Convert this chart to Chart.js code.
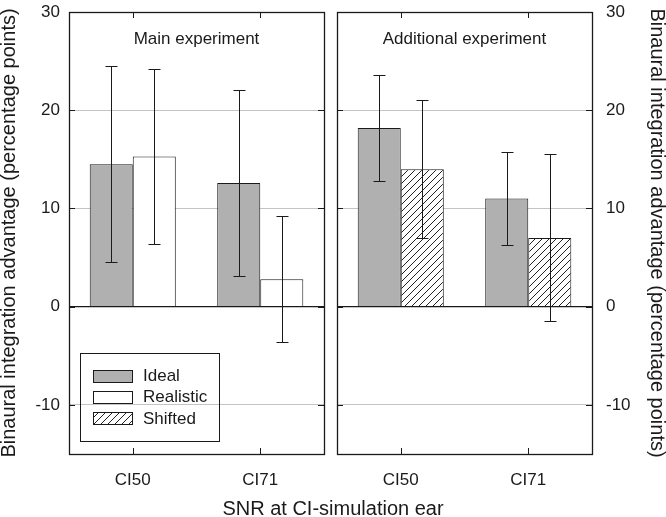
<!DOCTYPE html>
<html>
<head>
<meta charset="utf-8">
<script src="https://cdn.jsdelivr.net/npm/chart.js@4.4.1/dist/chart.umd.min.js"></script>
<style>
  body { margin: 0; background: #fff; }
  #wrap { position: relative; width: 666px; height: 517px; background: #fff; }
  canvas { position: absolute; top: 0; }
  #left { left: 0; }
  #right { left: 333px; }
  #xTitle {
    position: absolute; left: 0; top: 498px; width: 666px;
    text-align: center; font: 20px 'Liberation Sans', Arial, sans-serif;
    line-height: 20px; color: #1a1a1a;
  }
</style>
</head>
<body>
<div id="wrap">
  <canvas id="left" width="333" height="517"></canvas>
  <canvas id="right" width="333" height="517"></canvas>
  <div id="xTitle">SNR at CI-simulation ear</div>
</div>
<script>
// values
const categories = ['CI50', 'CI71'];
const seriesNames = ['Ideal', 'Realistic', 'Shifted'];

const mainIdeal = [14.5, 12.6];
const mainIdealErr = [10.0, 9.5];
const mainRealistic = [15.3, 2.8];
const mainRealisticErr = [8.9, 6.4];

const addIdeal = [18.2, 11.0];
const addIdealErr = [5.4, 4.7];
const addShifted = [14.0, 7.0];
const addShiftedErr = [7.0, 8.5];

const yTicks = [-10, 0, 10, 20, 30];
const yTitle = 'Binaural integration advantage (percentage points)';

const ink = '#1a1a1a';
const gray = '#b0b0b0';
Chart.defaults.font.family = "'Liberation Sans', Arial, sans-serif";
Chart.defaults.color = ink;

// diagonal hatch for the Shifted bars
function makeHatch() {
    const c = document.createElement('canvas');
    c.width = 7; c.height = 7;
    const g = c.getContext('2d');
    g.fillStyle = '#fff';
    g.fillRect(0, 0, 7, 7);
    g.strokeStyle = '#222';
    g.lineWidth = 1;
    g.beginPath();
    g.moveTo(-1, 8); g.lineTo(8, -1);
    g.moveTo(-1, 1); g.lineTo(1, -1);
    g.moveTo(6, 8); g.lineTo(8, 6);
    g.stroke();
    return g.createPattern(c, 'repeat');
}
const hatch = makeHatch();
const fills = [gray, '#ffffff', hatch];

// error bars, frame, inward ticks, panel title and legend
const framePlugin = {
    id: 'frame',
    afterDatasetsDraw(chart, args, opts) {
        const ctx = chart.ctx;
        const a = chart.chartArea;
        const y = chart.scales.y;
        const x = chart.scales.x;
        ctx.save();
        ctx.strokeStyle = ink;
        ctx.lineWidth = 1;

        // error bars
        chart.data.datasets.forEach((ds, i) => {
            const meta = chart.getDatasetMeta(i);
            meta.data.forEach((bar, j) => {
                const v = ds.data[j], e = ds.errors[j];
                const top = Math.round(y.getPixelForValue(v + e)) + 0.5;
                const bot = Math.round(y.getPixelForValue(v - e)) + 0.5;
                const cx = Math.round(bar.x) + 0.5;
                ctx.beginPath();
                ctx.moveTo(cx, top); ctx.lineTo(cx, bot);
                ctx.moveTo(cx - 6, top); ctx.lineTo(cx + 6, top);
                ctx.moveTo(cx - 6, bot); ctx.lineTo(cx + 6, bot);
                ctx.stroke();
            });
        });

        // inward tick marks
        ctx.beginPath();
        yTicks.forEach(v => {
            const py = Math.round(y.getPixelForValue(v)) + 0.5;
            ctx.moveTo(a.left, py); ctx.lineTo(a.left + 6, py);
            ctx.moveTo(a.right - 6, py); ctx.lineTo(a.right, py);
        });
        categories.forEach((c, i) => {
            const px = Math.round(x.getPixelForValue(i)) + 0.5;
            ctx.moveTo(px, a.top); ctx.lineTo(px, a.top + 6);
            ctx.moveTo(px, a.bottom); ctx.lineTo(px, a.bottom - 6);
        });
        ctx.stroke();

        // frame
        ctx.lineWidth = 1.3;
        ctx.strokeRect(Math.round(a.left) + 0.5, Math.round(a.top) + 0.5,
            Math.round(a.right - a.left), Math.round(a.bottom - a.top));

        // panel title
        ctx.fillStyle = ink;
        ctx.font = "17px 'Liberation Sans', Arial, sans-serif";
        ctx.textAlign = 'center';
        ctx.textBaseline = 'alphabetic';
        ctx.fillText(opts.text, (a.left + a.right) / 2, a.top + 31.5);

        // legend box
        if (opts.legend) {
            const bx = a.left + 11, by = 353;
            ctx.lineWidth = 1;
            ctx.strokeRect(bx + 0.5, by + 0.5, 139, 88);
            ctx.textAlign = 'left';
            ctx.textBaseline = 'middle';
            seriesNames.forEach((name, i) => {
                const cy = by + 22.5 + i * 21.3;
                ctx.fillStyle = fills[i];
                ctx.fillRect(bx + 13, Math.round(cy - 6), 39, 12);
                ctx.strokeRect(bx + 13.5, Math.round(cy - 6) + 0.5, 39, 12);
                ctx.fillStyle = ink;
                ctx.fillText(name, bx + 63, cy + 1);
            });
        }
        ctx.restore();
    }
};

function gridColor(c) {
    if (!c.tick) return '#c4c4c4';
    if (c.tick.value === 0) return ink;
    if (c.tick.value === 30) return 'rgba(0,0,0,0)';
    return '#c4c4c4';
}

function makePanel(id, side, datasets, title, legend) {
    const isLeft = side === 'left';
    return new Chart(document.getElementById(id), {
        type: 'bar',
        data: { labels: categories, datasets: datasets },
        options: {
            responsive: false,
            animation: false,
            events: [],
            layout: {
                padding: isLeft ? { top: 12, right: 9, left: 0, bottom: 0 }
                                : { top: 12, right: 0, left: 4, bottom: 0 }
            },
            datasets: { bar: { categoryPercentage: 0.675, barPercentage: 1 } },
            plugins: {
                legend: { display: false },
                tooltip: { enabled: false },
                frame: { text: title, legend: legend }
            },
            scales: {
                x: {
                    grid: { display: false },
                    border: { display: false },
                    ticks: { font: { size: 17 }, color: ink, padding: 8 },
                    afterFit: s => { s.height = 63; }
                },
                y: {
                    position: side,
                    min: -15,
                    max: 30,
                    afterBuildTicks: s => { s.ticks = yTicks.map(v => ({ value: v })); },
                    // invisible outer ticks just push the labels away from the frame
                    grid: {
                        color: gridColor,
                        drawTicks: true,
                        tickLength: isLeft ? 9 : 14,
                        tickColor: 'rgba(0,0,0,0)',
                        lineWidth: c => (c.tick && c.tick.value === 0) ? 1.3 : 1
                    },
                    border: { display: false },
                    ticks: { font: { size: 17 }, color: ink, padding: 0 },
                    title: {
                        display: true, text: yTitle, color: ink,
                        font: { size: 20, lineHeight: 1 },
                        padding: { top: -1, bottom: 0 }
                    },
                    afterFit: s => { s.width = isLeft ? 69 : 74; }
                }
            }
        },
        plugins: [framePlugin]
    });
}

function barSet(i, data, errors) {
    return {
        label: seriesNames[i],
        data: data,
        errors: errors,
        backgroundColor: fills[i],
        borderColor: ink,
        borderWidth: 1
    };
}

makePanel('left', 'left', [
    barSet(0, mainIdeal, mainIdealErr),
    barSet(1, mainRealistic, mainRealisticErr)
], 'Main experiment', true);

makePanel('right', 'right', [
    barSet(0, addIdeal, addIdealErr),
    barSet(2, addShifted, addShiftedErr)
], 'Additional experiment', false);
</script>
</body>
</html>
